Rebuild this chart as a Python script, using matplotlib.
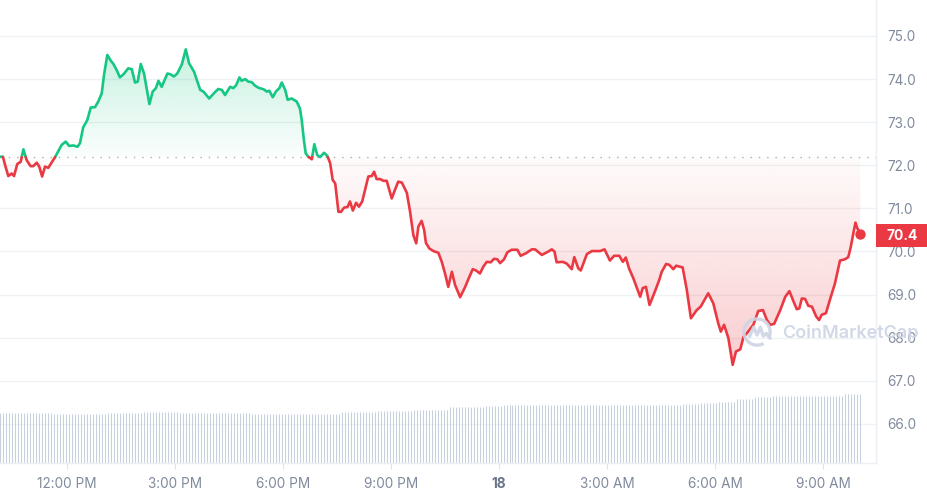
import numpy as np
import matplotlib
matplotlib.use("Agg")
import matplotlib.pyplot as plt
from matplotlib.path import Path
from matplotlib.patches import PathPatch, Rectangle, Arc
import matplotlib.colors as mcolors

# ---------------- data (hours since 00:00 on the 17th, price in USD) ----------------
times = [10.14, 10.22, 10.28, 10.37, 10.465, 10.53, 10.62, 10.715, 10.79, 10.88, 10.99, 11.065, 11.16, 11.23,
         11.31, 11.39, 11.48, 11.67, 11.85, 11.965, 12.06, 12.18, 12.29, 12.36, 12.45, 12.565, 12.66, 12.78,
         12.87, 12.965, 13.03, 13.12, 13.215, 13.29, 13.38, 13.47, 13.58, 13.70, 13.80, 13.89, 13.965, 14.05,
         14.14, 14.29, 14.38, 14.47, 14.54, 14.63, 14.79, 14.88, 14.97, 15.065, 15.19, 15.30, 15.39, 15.53,
         15.70, 15.79, 15.95, 16.08, 16.20, 16.30, 16.39, 16.53, 16.62, 16.70, 16.79, 16.85, 16.95, 17.04,
         17.13, 17.22, 17.315, 17.47, 17.55, 17.62, 17.715, 17.81, 17.90, 17.965, 18.06, 18.13, 18.24, 18.38,
         18.47, 18.52, 18.58, 18.63, 18.70, 18.80, 18.87, 18.95, 19.03, 19.14, 19.23, 19.31, 19.38, 19.45,
         19.54, 19.61, 19.70, 19.79, 19.86, 19.94, 20.03, 20.11, 20.20, 20.37, 20.465, 20.53, 20.60, 20.70,
         20.79, 20.88, 21.02, 21.11, 21.20, 21.30, 21.44, 21.53, 21.62, 21.70, 21.76, 21.85, 21.92, 21.97,
         22.065, 22.18, 22.315, 22.41, 22.50, 22.59, 22.69, 22.78, 22.92, 23.06, 23.18, 23.27, 23.36, 23.47,
         23.565, 23.66, 23.77, 23.86, 23.95, 24.03, 24.14, 24.23, 24.35, 24.51, 24.60, 24.75, 24.91, 25.00,
         25.19, 25.37, 25.465, 25.54, 25.60, 25.77, 25.88, 26.02, 26.09, 26.20, 26.27, 26.44, 26.58, 26.81,
         26.93, 27.08, 27.195, 27.34, 27.44, 27.52, 27.61, 27.73, 27.92, 27.99, 28.08, 28.18, 28.31, 28.45,
         28.52, 28.64, 28.73, 28.84, 28.92, 29.10, 29.215, 29.33, 29.49, 29.60, 29.81, 29.95, 30.09, 30.16,
         30.25, 30.37, 30.49, 30.58, 30.70, 30.79, 30.88, 31.065, 31.20, 31.33, 31.44, 31.53, 31.64, 31.81,
         31.95, 32.065, 32.18, 32.27, 32.34, 32.41, 32.50, 32.59, 32.69, 32.81, 32.89, 32.96, 33.08, 33.19,
         33.33, 33.47, 33.61, 33.70, 33.77, 33.84, 33.90, 33.95, 34.03]

prices = [72.20, 72.20, 72.01, 71.75, 71.81, 71.75, 72.03, 72.08, 72.37, 72.12, 71.98, 71.98, 72.06, 71.97,
          71.74, 71.97, 71.94, 72.19, 72.47, 72.55, 72.45, 72.46, 72.43, 72.51, 72.88, 73.05, 73.34, 73.35,
          73.48, 73.67, 74.10, 74.56, 74.43, 74.35, 74.21, 74.04, 74.12, 74.25, 74.23, 73.92, 73.94, 74.35,
          74.13, 73.42, 73.71, 73.79, 73.96, 73.82, 74.13, 74.11, 74.06, 74.13, 74.34, 74.69, 74.37, 74.17,
          73.75, 73.71, 73.55, 73.67, 73.77, 73.75, 73.63, 73.82, 73.79, 73.86, 74.04, 73.96, 74.00, 73.94,
          73.93, 73.85, 73.80, 73.76, 73.71, 73.73, 73.58, 73.72, 73.79, 73.92, 73.75, 73.52, 73.55, 73.48,
          73.32, 73.05, 72.59, 72.28, 72.20, 72.14, 72.49, 72.24, 72.19, 72.29, 72.22, 72.05, 71.66, 71.58,
          70.92, 70.92, 71.02, 71.03, 71.16, 70.95, 71.13, 71.04, 71.16, 71.74, 71.75, 71.85, 71.68, 71.68,
          71.64, 71.64, 71.23, 71.43, 71.62, 71.60, 71.36, 70.92, 70.38, 70.19, 70.58, 70.71, 70.50, 70.20,
          70.07, 70.01, 69.97, 69.76, 69.49, 69.18, 69.53, 69.22, 68.94, 69.18, 69.42, 69.59, 69.56, 69.49,
          69.65, 69.76, 69.75, 69.83, 69.82, 69.73, 69.82, 69.98, 70.04, 70.04, 69.90, 69.96, 70.05, 70.05,
          69.92, 70.00, 70.05, 70.00, 69.75, 69.76, 69.72, 69.59, 69.87, 69.61, 69.56, 69.94, 70.01, 70.01,
          70.05, 69.79, 69.90, 69.90, 69.76, 69.86, 69.61, 69.38, 68.95, 69.15, 69.18, 68.76, 69.03, 69.34,
          69.53, 69.71, 69.69, 69.59, 69.67, 69.63, 69.11, 68.45, 68.64, 68.72, 69.03, 68.80, 68.33, 68.14,
          68.30, 67.99, 67.37, 67.68, 67.73, 68.02, 68.10, 68.30, 68.62, 68.64, 68.41, 68.30, 68.32, 68.64,
          68.95, 69.08, 68.84, 68.66, 68.68, 68.91, 68.90, 68.74, 68.72, 68.49, 68.41, 68.53, 68.57, 68.88,
          69.26, 69.79, 69.82, 69.87, 70.11, 70.42, 70.67, 70.54, 70.41]

open_price = 72.19
last_label = "70.4"

# volume per half hour (relative units), drawn as 5-minute bars
volume_half_hour = [5.00, 5.00, 5.00, 4.95, 4.90, 4.95, 5.00, 5.05, 5.10, 5.10, 5.05, 5.05, 5.05, 5.05,
                    4.90, 4.90, 4.90, 4.90, 4.90, 5.15, 5.15, 5.25, 5.25, 5.30, 5.30, 5.60, 5.65, 5.75,
                    5.76, 5.78, 5.83, 5.83, 5.83, 5.76, 5.76, 5.76, 5.80, 5.83, 5.95, 6.03, 6.07, 6.44,
                    6.60, 6.70, 6.70, 6.70, 6.75, 6.88]
volume_axis_max = 46.3

y_ticks = [66, 67, 68, 69, 70, 71, 72, 73, 74, 75]
x_ticks = [12, 15, 18, 21, 24, 27, 30, 33]
x_labels = ["12:00 PM", "3:00 PM", "6:00 PM", "9:00 PM", "18", "3:00 AM", "6:00 AM", "9:00 AM"]

assert len(times) == len(prices), (len(times), len(prices))

GREEN = "#16c784"
RED = "#ea3943"
TXT = "#808a9d"
WM = "#cdd4e4"
plt.rcParams["font.family"] = ["Inter", "DejaVu Sans"]

t = np.array(times)
p = np.array(prices)

# insert crossing points at the open price
tt, pp = [t[0]], [p[0]]
for i in range(len(t) - 1):
    a, b = p[i] - open_price, p[i + 1] - open_price
    if a * b < 0:
        tc = t[i] + (open_price - p[i]) / (p[i + 1] - p[i]) * (t[i + 1] - t[i])
        tt.append(tc)
        pp.append(open_price)
    tt.append(t[i + 1])
    pp.append(p[i + 1])
tt = np.array(tt)
pp = np.array(pp)

fig = plt.figure(figsize=(9.28, 4.95), dpi=100)
ax = fig.add_axes([0, 32 / 495, 876 / 928, 463 / 495])
ax.set_facecolor("white")

XMIN, XMAX = 10.14, 34.47
YMIN, YMAX = 65.093, 75.835

# gradient fills
def gradient_fill(where, color, ylo, yhi, a_lo, a_hi):
    coll = ax.fill_between(tt, pp, open_price, where=where, interpolate=True, alpha=0)
    paths = coll.get_paths()
    coll.remove()
    if not paths:
        return
    clip = PathPatch(Path.make_compound_path(*paths), transform=ax.transData,
                     facecolor="none", edgecolor="none")
    ax.add_patch(clip)
    rgb = mcolors.to_rgb(color)
    n = 256
    grad = np.zeros((n, 1, 4))
    grad[:, 0, :3] = rgb
    grad[:, 0, 3] = np.linspace(a_lo, a_hi, n)
    im = ax.imshow(grad, extent=[XMIN, XMAX, ylo, yhi], origin="lower", aspect="auto",
                   zorder=1, interpolation="bilinear")
    im.set_clip_path(clip)

gradient_fill(pp >= open_price, GREEN, open_price, 74.9, 0.02, 0.26)
gradient_fill(pp <= open_price, RED, 67.2, open_price, 0.26, 0.02)

# line, coloured by side of open price
green_line = np.ma.masked_where(pp < open_price - 1e-9, pp)
red_line = np.ma.masked_where(pp > open_price + 1e-9, pp)
ax.plot(tt, green_line, color=GREEN, lw=1.9, zorder=4, solid_joinstyle="round", solid_capstyle="round")
ax.plot(tt, red_line, color=RED, lw=1.9, zorder=4, solid_joinstyle="round", solid_capstyle="round")
ax.plot([t[-1]], [p[-1]], "o", color=RED, ms=7.5, zorder=5, mec="none")

# baseline (open)
ax.axhline(open_price, color="#a9afbb", lw=1.0, ls=(0, (1, 5)), zorder=2)

# volume bars
vol = np.repeat(volume_half_hour, 6)
bar_t = np.linspace(t[0], t[-1], len(vol))
ax.vlines(bar_t, 0, vol / volume_axis_max, transform=ax.get_xaxis_transform(),
          color="#c8cfdf", lw=0.75, zorder=1)

# axes styling
ax.set_xlim(XMIN, XMAX)
ax.set_ylim(YMIN, YMAX)
ax.set_yticks(y_ticks)
ax.set_yticklabels([f"{v:.1f}" for v in y_ticks])
ax.yaxis.tick_right()
ax.yaxis.grid(True, color="#eff1f4", lw=1.0, zorder=0)
ax.set_axisbelow(True)
ax.tick_params(axis="y", length=0, pad=8, labelsize=9.8, labelcolor=TXT)
ax.set_xticks(x_ticks)
ax.set_xticklabels(x_labels)
ax.tick_params(axis="x", length=4, width=0.8, color="#dfe3ea", pad=6, labelsize=9.8, labelcolor=TXT)
lab18 = ax.get_xticklabels()[4]
lab18.set_fontweight("bold")
lab18.set_color("#6b7489")
for s in ["top", "left"]:
    ax.spines[s].set_visible(False)
for s in ["right", "bottom"]:
    ax.spines[s].set_color("#eceff3")
    ax.spines[s].set_linewidth(1.0)

# last-price tag
fig.patches.append(Rectangle((876 / 928, 1 - 247 / 495), 52 / 928, 23 / 495, transform=fig.transFigure,
                             facecolor=RED, edgecolor="none", zorder=5))
fig.text(902 / 928, 1 - 235.5 / 495, last_label, color="white", fontsize=10, fontweight="bold",
         ha="center", va="center", zorder=6)

# watermark
fig.text(782 / 928, 1 - 333 / 495, "CoinMarketCap", color=WM, fontsize=13, fontweight="semibold",
         ha="left", va="center", alpha=0.9, zorder=6)
lax = fig.add_axes([(757 - 15) / 928, 1 - (332 + 15) / 495, 30 / 928, 30 / 495])
lax.set_xlim(-1, 1)
lax.set_ylim(-1, 1)
lax.axis("off")
lax.patch.set_alpha(0)
lax.add_patch(Arc((0, 0), 1.75, 1.75, theta1=-25, theta2=300, lw=2.4, color=WM, alpha=0.9))
lax.plot([-0.5, -0.22, 0.0, 0.22, 0.42, 0.62, 0.88], [-0.3, 0.32, -0.2, 0.32, -0.28, -0.1, -0.42],
         color=WM, lw=2.4, alpha=0.9, solid_capstyle="round", solid_joinstyle="round")

fig.savefig("out.png", dpi=100, facecolor="white")
